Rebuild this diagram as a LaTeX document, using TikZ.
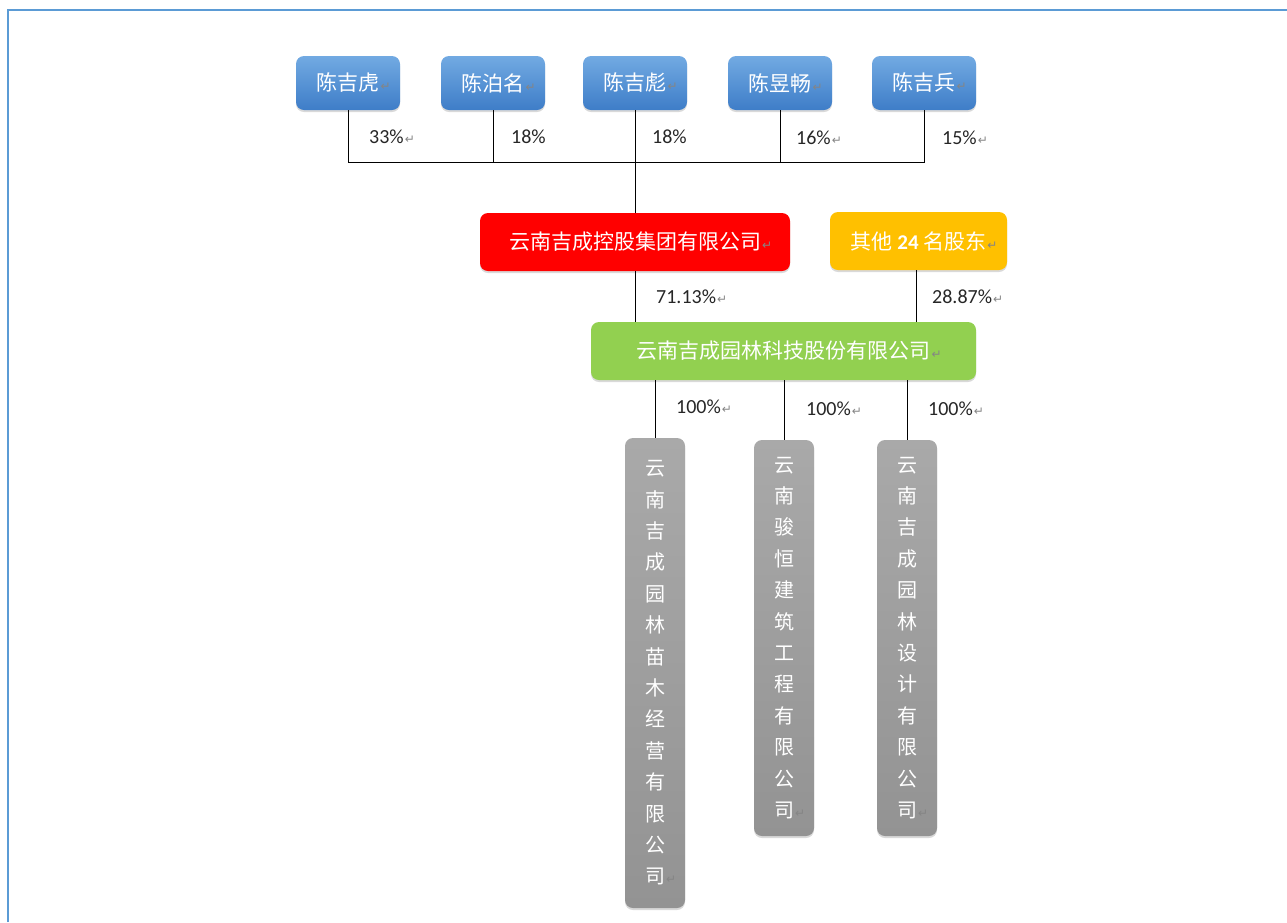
\documentclass[tikz,border=0pt]{standalone}
\usepackage{fontspec}
\setmainfont{Carlito}
\newfontfamily\cjk{Noto Sans CJK SC}
\newfontfamily\dvret{DejaVu Sans}
\usetikzlibrary{shadows,calc}
\definecolor{framecol}{HTML}{5B9BD5}
\definecolor{bluetop}{HTML}{72AAE2}
\definecolor{bluebot}{HTML}{3E7DC8}
\definecolor{redbox}{HTML}{FF0000}
\definecolor{orangebox}{HTML}{FFC000}
\definecolor{greenbox}{HTML}{92D050}
\definecolor{graytop}{HTML}{A9A9A9}
\definecolor{graybot}{HTML}{939393}
\definecolor{retgray}{HTML}{858585}
\newcommand{\retm}{\rlap{\kern1pt\dvret\fontsize{12}{12}\selectfont\textcolor{retgray}{↵}}}
\tikzset{
  boxbase/.style={rounded corners=8pt, draw=none, inner sep=0pt, text=white,
    font=\cjk\fontsize{21}{21}\selectfont,
    drop shadow={shadow xshift=0pt,shadow yshift=-2pt,opacity=.3}},
  person/.style={boxbase, minimum width=104pt, minimum height=54pt, top color=bluetop, bottom color=bluebot},
  redstyle/.style={boxbase, minimum width=310pt, minimum height=58pt, fill=redbox},
  orangestyle/.style={boxbase, minimum width=177pt, minimum height=58pt, fill=orangebox},
  greenstyle/.style={boxbase, minimum width=385pt, minimum height=58pt, fill=greenbox},
  subco/.style={boxbase, minimum width=60pt, top color=graytop, bottom color=graybot, align=center,
    font=\cjk\fontsize{20}{31.4}\selectfont},
  pct/.style={anchor=west, inner sep=0pt, font=\fontsize{20}{20}\selectfont, text=black!85},
  conn/.style={draw=black, line width=1pt}
}
\begin{document}
\begin{tikzpicture}[x=1pt,y=-1pt]
\useasboundingbox (0,0) rectangle (1287,922);
\draw[framecol, line width=2pt] (8,922) -- (8,10) -- (1287,10);

% shareholders
\node[person] (p1) at (348,83) {陈吉虎\retm};
\node[person] (p2) at (493,83) {陈泊名\retm};
\node[person] (p3) at (635,83) {陈吉彪\retm};
\node[person] (p4) at (780,83) {陈昱畅\retm};
\node[person] (p5) at (924,83) {陈吉兵\retm};

\node[redstyle] (red) at (635,242) {云南吉成控股集团有限公司\retm};
\node[orangestyle] (orange) at (918.5,241) {其他 {\fontspec{Carlito}\bfseries 24} 名股东\retm};
\node[greenstyle] (green) at (783.5,351) {云南吉成园林科技股份有限公司\retm};

\node[subco, minimum height=470pt] (g1) at (655,673)
  {云\\南\\吉\\成\\园\\林\\苗\\木\\经\\营\\有\\限\\公\\司\retm};
\node[subco, minimum height=396pt] (g2) at (784,638)
  {云\\南\\骏\\恒\\建\\筑\\工\\程\\有\\限\\公\\司\retm};
\node[subco, minimum height=396pt] (g3) at (907,638)
  {云\\南\\吉\\成\\园\\林\\设\\计\\有\\限\\公\\司\retm};

% connectors
\coordinate (bus) at (635,162);
\draw[conn] (p1.south) -- (p1.south |- bus) -- (p5.south |- bus) -- (p5.south);
\draw[conn] (p2.south) -- (p2.south |- bus);
\draw[conn] (p4.south) -- (p4.south |- bus);
\draw[conn] (p3.south) -- (red.north);
\draw[conn] (red.south) -- (red.south |- green.north);
\coordinate (oline) at (916,270);
\draw[conn] (oline |- orange.south) -- (oline |- green.north);
\draw[conn] (g1.north |- green.south) -- (g1.north);
\draw[conn] (g2.north |- green.south) -- (g2.north);
\draw[conn] (g3.north |- green.south) -- (g3.north);

% percentages
\node[pct] (l1) at (369,137) {33\%\retm};
\node[pct] (l2) at (511,137) {18\%};
\node[pct] (l3) at (652,137) {18\%};
\node[pct] (l4) at (796,138) {16\%\retm};
\node[pct] (l5) at (942,138) {15\%\retm};
\node[pct] (l6) at (656,297) {71.13\%\retm};
\node[pct] (l7) at (932,297) {28.87\%\retm};
\node[pct] (l8) at (676,407) {100\%\retm};
\node[pct] (l9) at (806,409) {100\%\retm};
\node[pct] (l10) at (928,409) {100\%\retm};
\end{tikzpicture}
\end{document}
